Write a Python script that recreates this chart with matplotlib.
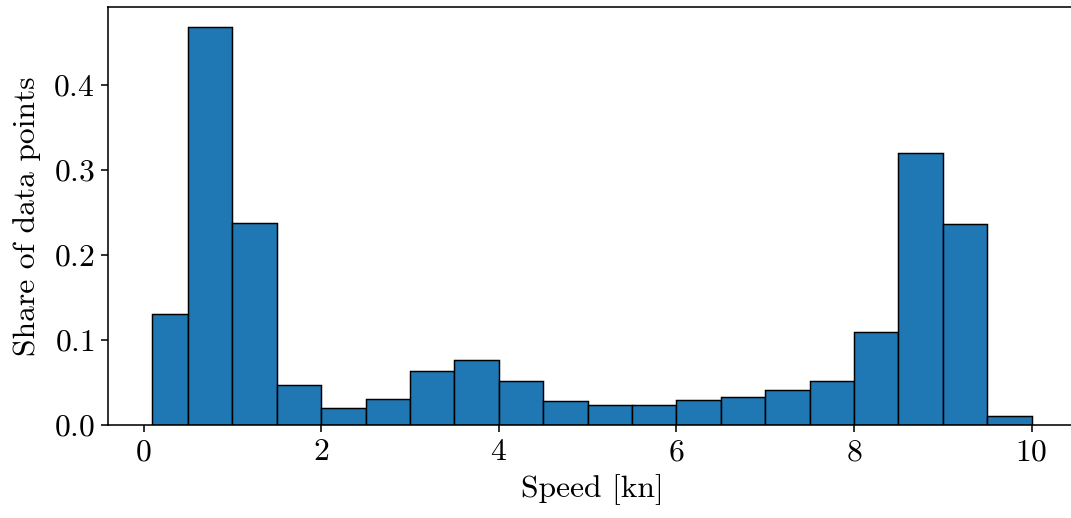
import numpy as np
import matplotlib.pyplot as plt

s = 1.42  # reference looks like a standard figure saved at higher dpi
plt.rcParams['font.family'] = 'serif'
plt.rcParams['font.serif'] = ['cmr10']
plt.rcParams['mathtext.fontset'] = 'cm'
plt.rcParams['axes.formatter.use_mathtext'] = True
plt.rcParams['font.size'] = 16 * s
plt.rcParams['axes.linewidth'] = 0.8 * s
plt.rcParams['xtick.major.width'] = 0.8 * s
plt.rcParams['ytick.major.width'] = 0.8 * s
plt.rcParams['xtick.major.size'] = 3.5 * s
plt.rcParams['ytick.major.size'] = 3.5 * s
plt.rcParams['xtick.major.pad'] = 3.5 * s
plt.rcParams['ytick.major.pad'] = 3.5 * s
plt.rcParams['axes.labelpad'] = 4.0 * s

# histogram bin edges [kn] and share of data points per bin
bin_edges = [0.1, 0.5, 1.0, 1.5, 2.0, 2.5, 3.0, 3.5, 4.0, 4.5, 5.0,
             5.5, 6.0, 6.5, 7.0, 7.5, 8.0, 8.5, 9.0, 9.5, 10.0]
shares = [0.131, 0.468, 0.238, 0.047, 0.020, 0.031, 0.064, 0.077, 0.052, 0.028,
          0.023, 0.023, 0.029, 0.033, 0.041, 0.052, 0.109, 0.320, 0.236, 0.011]

fig = plt.figure(figsize=(10.71, 5.18), dpi=100)
ax = fig.add_axes([0.1013, 0.1795, 0.903, 0.807])

ax.hist(bin_edges[:-1], bins=bin_edges, weights=shares,
        color='C0', edgecolor='black', linewidth=0.75 * s)

ax.set_xlabel('Speed [kn]')
ax.set_ylabel('Share of data points', labelpad=6 * s)
ax.set_xticks([0, 2, 4, 6, 8, 10])
ax.set_yticks([0.0, 0.1, 0.2, 0.3, 0.4])

fig.savefig('out.png', dpi=100)
